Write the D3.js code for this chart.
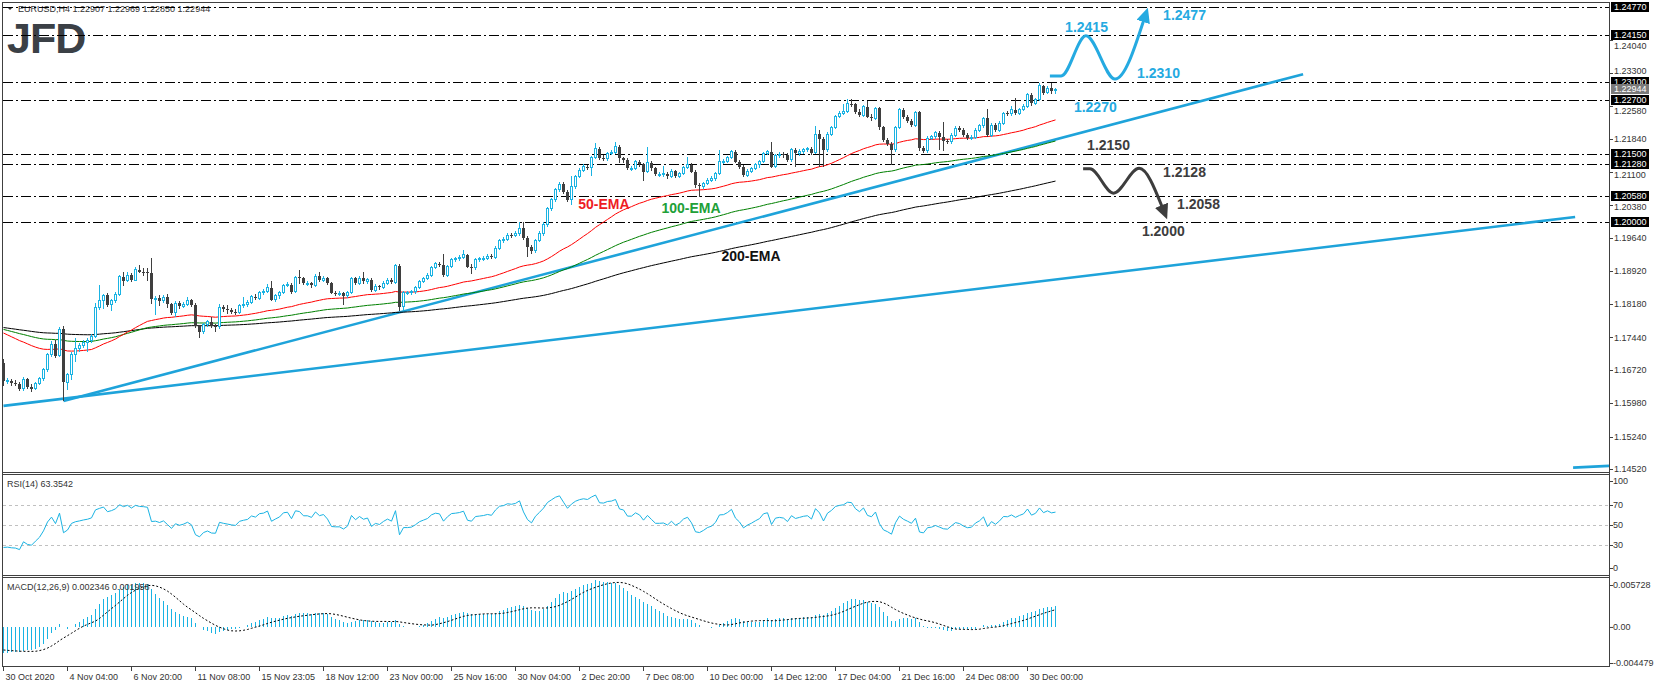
<!DOCTYPE html>
<html lang="en">
<head>
<meta charset="utf-8">
<title>EURUSD H4</title>
<script src="https://d3js.org/d3.v7.min.js"></script>
<style>
  body { margin: 0; background: #fff; }
  svg text { font-family: "Liberation Sans", Arial, sans-serif; }
  .axis-label { font-size: 9px; fill: #333; }
  .note { font-size: 14px; font-weight: bold; }
</style>
</head>
<body>
<div id="chart"></div>
<script>
// ---- data (EURUSD H4, 30 Oct 2020 - 31 Dec 2020) ----
var firstOpen = 1.1688;
var closes = [
1.1647,1.1648,1.1643,1.1641,1.1630,1.1651,1.1635,1.1630,1.1641,1.1652,
1.1672,1.1706,1.1729,1.1703,1.1762,1.1644,1.1661,1.1707,1.1720,1.1726,
1.1733,1.1738,1.1747,1.1811,1.1825,1.1838,1.1816,1.1825,1.1840,1.1878,
1.1870,1.1882,1.1871,1.1894,1.1890,1.1889,1.1887,1.1829,1.1831,1.1825,
1.1833,1.1817,1.1799,1.1820,1.1813,1.1818,1.1826,1.1816,1.1769,1.1757,
1.1773,1.1779,1.1769,1.1768,1.1811,1.1807,1.1804,1.1801,1.1799,1.1814,
1.1818,1.1821,1.1834,1.1831,1.1844,1.1846,1.1854,1.1828,1.1836,1.1843,
1.1859,1.1861,1.1845,1.1877,1.1875,1.1864,1.1864,1.1860,1.1880,1.1871,
1.1875,1.1864,1.1843,1.1842,1.1842,1.1836,1.1843,1.1875,1.1864,1.1875,
1.1868,1.1872,1.1849,1.1858,1.1855,1.1864,1.1871,1.1866,1.1903,1.1812,
1.1843,1.1843,1.1845,1.1855,1.1868,1.1875,1.1882,1.1899,1.1907,1.1905,
1.1882,1.1901,1.1916,1.1918,1.1921,1.1927,1.1901,1.1898,1.1916,1.1918,
1.1920,1.1924,1.1922,1.1942,1.1959,1.1962,1.1971,1.1970,1.1974,1.1986,
1.1964,1.1945,1.1936,1.1959,1.1975,1.1995,1.2029,1.2049,1.2071,1.2084,
1.2067,1.2049,1.2078,1.2101,1.2115,1.2123,1.2121,1.2143,1.2163,1.2141,
1.2140,1.2152,1.2155,1.2167,1.2141,1.2138,1.2119,1.2119,1.2134,1.2128,
1.2112,1.2132,1.2119,1.2106,1.2106,1.2107,1.2101,1.2113,1.2101,1.2108,
1.2121,1.2127,1.2112,1.2082,1.2079,1.2085,1.2093,1.2097,1.2108,1.2134,
1.2135,1.2143,1.2156,1.2134,1.2123,1.2104,1.2113,1.2119,1.2127,1.2134,
1.2152,1.2156,1.2123,1.2147,1.2150,1.2148,1.2138,1.2160,1.2152,1.2156,
1.2160,1.2162,1.2154,1.2195,1.2184,1.2160,1.2195,1.2210,1.2234,1.2241,
1.2245,1.2262,1.2261,1.2245,1.2237,1.2256,1.2234,1.2230,1.2252,1.2210,
1.2182,1.2173,1.2160,1.2210,1.2249,1.2234,1.2225,1.2215,1.2243,1.2164,
1.2158,1.2186,1.2189,1.2198,1.2189,1.2180,1.2178,1.2193,1.2208,1.2204,
1.2193,1.2186,1.2188,1.2204,1.2213,1.2230,1.2193,1.2215,1.2204,1.2219,
1.2241,1.2240,1.2249,1.2241,1.2250,1.2257,1.2282,1.2263,1.2272,1.2302,
1.2287,1.2297,1.22907,1.22944
];
var highs = [
1.1695,1.1655,1.1652,1.1650,1.1645,1.1656,1.1655,1.1640,1.1645,1.1656,
1.1676,1.1710,1.1736,1.1738,1.1766,1.1769,1.1666,1.1712,1.1743,1.1732,
1.1738,1.1742,1.1752,1.1820,1.1860,1.1841,1.1843,1.1829,1.1844,1.1882,
1.1890,1.1890,1.1886,1.1900,1.1905,1.1898,1.1899,1.1921,1.1836,1.1838,
1.1838,1.1840,1.1821,1.1824,1.1824,1.1822,1.1834,1.1830,1.1820,1.1772,
1.1777,1.1783,1.1789,1.1774,1.1819,1.1816,1.1815,1.1809,1.1806,1.1818,
1.1834,1.1826,1.1838,1.1840,1.1848,1.1852,1.1862,1.1868,1.1840,1.1847,
1.1863,1.1866,1.1864,1.1880,1.1894,1.1878,1.1868,1.1866,1.1885,1.1890,
1.1880,1.1878,1.1867,1.1847,1.1848,1.1845,1.1847,1.1879,1.1879,1.1880,
1.1888,1.1876,1.1876,1.1862,1.1861,1.1868,1.1875,1.1876,1.1906,1.1906,
1.1846,1.1848,1.1849,1.1859,1.1872,1.1879,1.1886,1.1903,1.1912,1.1911,
1.1929,1.1905,1.1920,1.1923,1.1926,1.1938,1.1930,1.1906,1.1920,1.1923,
1.1925,1.1928,1.1930,1.1946,1.1963,1.1967,1.1976,1.1976,1.1979,1.2001,
1.2001,1.1968,1.1950,1.1963,1.1980,1.1999,1.2034,1.2053,1.2075,1.2089,
1.2088,1.2071,1.2101,1.2105,1.2119,1.2128,1.2127,1.2147,1.2175,1.2166,
1.2148,1.2156,1.2160,1.2178,1.2170,1.2145,1.2141,1.2125,1.2138,1.2138,
1.2131,1.2167,1.2136,1.2122,1.2111,1.2125,1.2111,1.2117,1.2116,1.2112,
1.2125,1.2145,1.2131,1.2116,1.2087,1.2089,1.2097,1.2101,1.2112,1.2160,
1.2140,1.2147,1.2160,1.2159,1.2137,1.2126,1.2117,1.2123,1.2131,1.2138,
1.2156,1.2160,1.2177,1.2151,1.2155,1.2156,1.2152,1.2165,1.2164,1.2162,
1.2165,1.2167,1.2166,1.2213,1.2204,1.2188,1.2199,1.2214,1.2238,1.2246,
1.2261,1.2272,1.2272,1.2265,1.2250,1.2260,1.2269,1.2240,1.2256,1.2255,
1.2214,1.2186,1.2177,1.2214,1.2253,1.2252,1.2238,1.2229,1.2247,1.2247,
1.2168,1.2190,1.2194,1.2203,1.2202,1.2221,1.2185,1.2197,1.2212,1.2213,
1.2208,1.2197,1.2192,1.2208,1.2217,1.2234,1.2250,1.2219,1.2219,1.2223,
1.2245,1.2246,1.2257,1.2275,1.2254,1.2261,1.2286,1.2286,1.2276,1.2309,
1.2305,1.2301,1.2309,1.22969
];
var lows = [
1.1636,1.1640,1.1637,1.1636,1.1625,1.1624,1.1630,1.1623,1.1627,1.1638,
1.1648,1.1668,1.1700,1.1698,1.1700,1.1603,1.1627,1.1650,1.1690,1.1712,
1.1720,1.1712,1.1732,1.1742,1.1805,1.1808,1.1812,1.1803,1.1820,1.1836,
1.1858,1.1866,1.1866,1.1868,1.1886,1.1880,1.1870,1.1818,1.1794,1.1813,
1.1820,1.1810,1.1794,1.1790,1.1808,1.1809,1.1814,1.1812,1.1764,1.1743,
1.1752,1.1768,1.1765,1.1757,1.1762,1.1801,1.1795,1.1796,1.1794,1.1795,
1.1810,1.1812,1.1818,1.1826,1.1827,1.1838,1.1842,1.1824,1.1822,1.1830,
1.1840,1.1855,1.1840,1.1842,1.1862,1.1860,1.1858,1.1853,1.1856,1.1866,
1.1866,1.1860,1.1840,1.1835,1.1836,1.1816,1.1831,1.1840,1.1860,1.1860,
1.1863,1.1862,1.1845,1.1845,1.1850,1.1852,1.1860,1.1862,1.1862,1.1803,
1.1803,1.1838,1.1838,1.1841,1.1852,1.1864,1.1871,1.1878,1.1895,1.1900,
1.1878,1.1878,1.1897,1.1911,1.1914,1.1917,1.1897,1.1885,1.1894,1.1912,
1.1913,1.1916,1.1917,1.1918,1.1938,1.1954,1.1958,1.1965,1.1966,1.1970,
1.1960,1.1922,1.1930,1.1932,1.1955,1.1970,1.1990,1.2025,1.2045,1.2066,
1.2062,1.2044,1.2038,1.2074,1.2097,1.2111,1.2116,1.2101,1.2139,1.2137,
1.2135,1.2136,1.2148,1.2151,1.2130,1.2132,1.2115,1.2113,1.2115,1.2123,
1.2090,1.2108,1.2114,1.2101,1.2100,1.2100,1.2096,1.2097,1.2097,1.2097,
1.2104,1.2117,1.2108,1.2076,1.2056,1.2073,1.2081,1.2089,1.2092,1.2104,
1.2129,1.2131,1.2139,1.2130,1.2118,1.2100,1.2100,1.2109,1.2115,1.2120,
1.2130,1.2148,1.2119,1.2119,1.2143,1.2142,1.2133,1.2133,1.2123,1.2147,
1.2150,1.2155,1.2149,1.2150,1.2123,1.2123,1.2155,1.2191,1.2206,1.2230,
1.2237,1.2241,1.2256,1.2240,1.2232,1.2233,1.2230,1.2225,1.2226,1.2205,
1.2178,1.2168,1.2127,1.2156,1.2206,1.2229,1.2220,1.2210,1.2211,1.2158,
1.2152,1.2153,1.2182,1.2185,1.2160,1.2158,1.2173,1.2174,1.2189,1.2199,
1.2189,1.2181,1.2182,1.2184,1.2200,1.2209,1.2189,1.2189,1.2199,1.2200,
1.2215,1.2235,1.2236,1.2237,1.2237,1.2246,1.2253,1.2258,1.2259,1.2268,
1.2282,1.2283,1.2284,1.22850
];
var timeLabels = ["30 Oct 2020","4 Nov 04:00","6 Nov 20:00","11 Nov 08:00","15 Nov 23:05",
  "18 Nov 12:00","23 Nov 00:00","25 Nov 16:00","30 Nov 04:00","2 Dec 20:00","7 Dec 08:00",
  "10 Dec 00:00","14 Dec 12:00","17 Dec 04:00","21 Dec 16:00","24 Dec 08:00","30 Dec 00:00"];
var barsPerLabel = 16;
var priceTicks = [1.2404,1.2330,1.2258,1.2184,1.2110,1.2038,1.1964,1.1892,1.1818,1.1744,1.1672,1.1598,1.1524,1.1452];
var levels = [1.2477,1.2415,1.2310,1.2270,1.2150,1.2128,1.2058,1.2000];
var lastPrice = 1.22944;
var rsiLevels = [70,50,30];
var rsiTicks = [100,70,50,30,0];
var macdTicks = [0.005728,0,-0.004479];

// indicator states just before the first visible bar
var ema50Seed = 1.1758, ema100Seed = 1.1764, ema200Seed = 1.1767;
var ema12Seed = 1.1674, ema26Seed = 1.1704, signalSeed = -0.0026;
var rsiGainSeed = 0.0005, rsiLossSeed = 0.0010;

// trend lines [bar, price]
var steepTrend = [[15,1.1603],[324.9,1.2328]];
var longTrend = [[0,1.1592],[392.9,1.2011]];
// scenario paths [bar, price]
var upPath = [[261.6,1.2324],[264.4,1.2324],[270.6,1.2413],[277.9,1.2317],[285.0,1.2446]];
var downPath = [[269.9,1.2118],[271.6,1.2118],[277.5,1.2064],[283.9,1.2119],[289.6,1.2035]];
var upNotes = [["1.2415",265.4,1.2422],["1.2477",289.9,1.2448],["1.2310",283.4,1.2319],["1.2270",267.6,1.2244]];
var downNotes = [["1.2150",270.9,1.2160],["1.2128",289.9,1.2100],["1.2058",293.4,1.2029],["1.2000",284.6,1.1969]];

// ---- indicators ----
function ema(src, period, seed) {
  var k = 2 / (period + 1), v = seed;
  return src.map(function(c) { v = v + k * (c - v); return v; });
}
var ema50 = ema(closes, 50, ema50Seed);
var ema100 = ema(closes, 100, ema100Seed);
var ema200 = ema(closes, 200, ema200Seed);

var prevC = firstOpen, ag = rsiGainSeed, al = rsiLossSeed;
var rsi = closes.map(function(c) {
  var d = c - prevC; prevC = c;
  ag = (ag * 13 + Math.max(d, 0)) / 14;
  al = (al * 13 + Math.max(-d, 0)) / 14;
  return 100 - 100 / (1 + ag / al);
});

var e12 = ema(closes, 12, ema12Seed), e26 = ema(closes, 26, ema26Seed);
var macd = e12.map(function(v, i) { return v - e26[i]; });
var padded = d3.range(8).map(function() { return signalSeed; }).concat(macd);
var signal = macd.map(function(v, i) { return d3.mean(padded.slice(i, i + 9)); });

var bars = closes.map(function(c, i) {
  return { i: i, o: i ? closes[i - 1] : firstOpen, c: c, h: highs[i], l: lows[i] };
});

// ---- layout ----
var W = 1655, H = 687, axisX = 1609;
var cyan = "#1ab3e3", bearCol = "#3f3f3f", lineCol = "#1ea3da";

var svg = d3.select("#chart").append("svg").attr("width", W).attr("height", H);

var x = d3.scaleLinear().domain([0, 263]).range([3.5, 1055.5]);
var y = d3.scaleLinear().domain([1.1452, 1.2477]).range([469, 7]);
var yR = d3.scaleLinear().domain([0, 100]).range([575, 475]);
var yM = d3.scaleLinear().domain([-0.004479, 0.005728]).range([666, 577]);

var defs = svg.append("defs");
defs.append("clipPath").attr("id", "mainClip")
  .append("rect").attr("x", 3).attr("y", 3).attr("width", axisX - 3).attr("height", 469);
function marker(id, col) {
  defs.append("marker").attr("id", id).attr("markerUnits", "userSpaceOnUse")
    .attr("markerWidth", 16).attr("markerHeight", 14).attr("refX", 1).attr("refY", 7)
    .attr("orient", "auto")
    .append("path").attr("d", "M0,0 L15,7 L0,14 Z").attr("fill", col);
}
marker("arrUp", "#25aae1");
marker("arrDown", "#3d3d3d");

// header + logo
svg.append("path").attr("d", "M7,7 L13,7 L10,10 Z").attr("fill", "#333");
svg.append("text").attr("x", 18).attr("y", 11.5).attr("class", "axis-label")
  .text("EURUSD,H4  1.22907 1.22969 1.22850 1.22944");
svg.append("text").attr("x", 7).attr("y", 52.5).text("JFD")
  .style("font-size", "43px").style("font-weight", "bold").style("letter-spacing", "-1px")
  .attr("fill", "#3b4046");

var main = svg.append("g").attr("clip-path", "url(#mainClip)");

// dash-dot levels
main.selectAll(".lvl").data(levels).enter().append("line")
  .attr("x1", 3).attr("x2", axisX)
  .attr("y1", function(d) { return Math.round(y(d)) + 0.5; })
  .attr("y2", function(d) { return Math.round(y(d)) + 0.5; })
  .attr("stroke", "#000").attr("stroke-width", 1).attr("stroke-dasharray", "10,3,2,3");

// trend lines
[steepTrend, longTrend].forEach(function(t) {
  main.append("line")
    .attr("x1", x(t[0][0])).attr("y1", y(t[0][1]))
    .attr("x2", x(t[1][0])).attr("y2", y(t[1][1]))
    .attr("stroke", lineCol).attr("stroke-width", 2.6);
});
main.append("line").attr("x1", x(392.4)).attr("x2", axisX)
  .attr("y1", y(1.1455)).attr("y2", y(1.1459)).attr("stroke", lineCol).attr("stroke-width", 2.6);

// moving averages
var emaLine = d3.line().x(function(d, i) { return x(i); }).y(function(d) { return y(d); });
[[ema200, "#000"], [ema100, "#008000"], [ema50, "#ff0000"]].forEach(function(e) {
  main.append("path").attr("d", emaLine(e[0])).attr("fill", "none")
    .attr("stroke", e[1]).attr("stroke-width", 1);
});

// candles
var cg = main.append("g").attr("shape-rendering", "crispEdges");
cg.selectAll(".wick").data(bars).enter().append("line")
  .attr("x1", function(d) { return x(d.i); }).attr("x2", function(d) { return x(d.i); })
  .attr("y1", function(d) { return y(d.h); }).attr("y2", function(d) { return y(d.l); })
  .attr("stroke", function(d) { return d.c >= d.o ? cyan : bearCol; });
cg.selectAll(".body").data(bars).enter().append("rect")
  .attr("x", function(d) { return d.c >= d.o ? x(d.i) - 1 : x(d.i) - 1.5; })
  .attr("width", function(d) { return d.c >= d.o ? 2 : 3; })
  .attr("y", function(d) { return y(Math.max(d.o, d.c)); })
  .attr("height", function(d) { return Math.max(1, Math.abs(y(d.o) - y(d.c))); })
  .attr("fill", function(d) { return d.c >= d.o ? "#fff" : bearCol; })
  .attr("stroke", function(d) { return d.c >= d.o ? cyan : "none"; });

// scenario drawings
var scen = d3.line().curve(d3.curveMonotoneX)
  .x(function(d) { return x(d[0]); }).y(function(d) { return y(d[1]); });
main.append("path").attr("d", scen(upPath)).attr("fill", "none")
  .attr("stroke", "#25aae1").attr("stroke-width", 3).attr("marker-end", "url(#arrUp)");
main.append("path").attr("d", scen(downPath)).attr("fill", "none")
  .attr("stroke", "#3d3d3d").attr("stroke-width", 3).attr("marker-end", "url(#arrDown)");
main.selectAll(".upn").data(upNotes).enter().append("text").attr("class", "note")
  .attr("x", function(d) { return x(d[1]); }).attr("y", function(d) { return y(d[2]); })
  .attr("fill", "#25aae1").text(function(d) { return d[0]; });
main.selectAll(".dnn").data(downNotes).enter().append("text").attr("class", "note")
  .attr("x", function(d) { return x(d[1]); }).attr("y", function(d) { return y(d[2]); })
  .attr("fill", "#3d3d3d").text(function(d) { return d[0]; });
[["50-EMA", 143.7, 1.2028, "#ee1c24"], ["100-EMA", 164.5, 1.2021, "#21a038"], ["200-EMA", 179.5, 1.1914, "#111"]]
  .forEach(function(t) {
    main.append("text").attr("class", "note").attr("x", x(t[1])).attr("y", y(t[2]))
      .attr("fill", t[3]).text(t[0]);
  });

// RSI panel
svg.selectAll(".rl").data(rsiLevels).enter().append("line")
  .attr("x1", 3).attr("x2", axisX)
  .attr("y1", function(d) { return yR(d) + 0.5; }).attr("y2", function(d) { return yR(d) + 0.5; })
  .attr("stroke", "#c0c0c0").attr("stroke-dasharray", "3,3");
svg.append("path").attr("fill", "none").attr("stroke", cyan).attr("stroke-width", 1)
  .attr("d", d3.line().x(function(d, i) { return x(i); }).y(function(d) { return yR(d); })(rsi));
svg.append("text").attr("class", "axis-label").attr("x", 7).attr("y", 487).text("RSI(14) 63.3542");

// MACD panel
svg.append("g").attr("shape-rendering", "crispEdges").selectAll("rect").data(macd).enter().append("rect")
  .attr("x", function(d, i) { return x(i) - 0.5; }).attr("width", 1)
  .attr("y", function(d) { return Math.min(yM(d), yM(0)); })
  .attr("height", function(d) { return Math.abs(yM(d) - yM(0)); })
  .attr("fill", cyan);
svg.append("path").attr("fill", "none").attr("stroke", "#000").attr("stroke-width", 1)
  .attr("stroke-dasharray", "2,2")
  .attr("d", d3.line().x(function(d, i) { return x(i); }).y(function(d) { return yM(d); })(signal));
svg.append("text").attr("class", "axis-label").attr("x", 7).attr("y", 590)
  .text("MACD(12,26,9) 0.002346 0.001958");

// frames
var fr = svg.append("g").attr("stroke", "#404040").attr("stroke-width", 1).attr("shape-rendering", "crispEdges");
fr.append("line").attr("x1", 2.5).attr("x2", 2.5).attr("y1", 2).attr("y2", 666);
fr.append("line").attr("x1", axisX + 0.5).attr("x2", axisX + 0.5).attr("y1", 2).attr("y2", 666);
[2.5, 472.5, 474.5, 575.5, 577.5, 666.5].forEach(function(v) {
  fr.append("line").attr("x1", 2).attr("x2", axisX + 1).attr("y1", v).attr("y2", v);
});

// right axis: price ticks (labels sitting under a level box are pushed just clear of it)
var boxYs = levels.map(function(v) { return Math.round(y(v)); });
function tickY(d) {
  var yy = y(d);
  boxYs.forEach(function(b) {
    if (Math.abs(yy - b) < 11) yy = yy > b ? b + 11 : b - 11;
  });
  return yy;
}
var ax = svg.append("g");
ax.selectAll(".pt").data(priceTicks).enter().append("line")
  .attr("x1", axisX).attr("x2", axisX + 4)
  .attr("y1", function(d) { return Math.round(y(d)) + 0.5; }).attr("y2", function(d) { return Math.round(y(d)) + 0.5; })
  .attr("stroke", "#404040");
ax.selectAll(".ptl").data(priceTicks).enter().append("text").attr("class", "axis-label")
  .attr("x", axisX + 5).attr("y", tickY).attr("dy", "0.35em")
  .text(function(d) { return d.toFixed(5); });
function boxLabel(v, bg) {
  var g = ax.append("g").attr("transform", "translate(" + (axisX + 2) + "," + Math.round(y(v)) + ")");
  g.append("rect").attr("x", 0).attr("y", -5).attr("width", 38).attr("height", 10).attr("fill", bg);
  g.append("text").attr("class", "axis-label").attr("x", 3).attr("y", 0).attr("dy", "0.35em")
    .style("fill", "#fff").text(v.toFixed(5));
}
levels.forEach(function(v) { boxLabel(v, "#000"); });
boxLabel(lastPrice, "#7a7a7a");

// right axis: RSI & MACD
rsiTicks.forEach(function(v) {
  var yy = Math.min(Math.max(yR(v), 481), 568);
  ax.append("line").attr("x1", axisX).attr("x2", axisX + 4).attr("y1", yy + 0.5).attr("y2", yy + 0.5).attr("stroke", "#404040");
  ax.append("text").attr("class", "axis-label").attr("x", axisX + 4).attr("y", yy).attr("dy", "0.35em").text(v);
});
macdTicks.forEach(function(v) {
  var yy = Math.min(Math.max(yM(v), 585), 663);
  ax.append("line").attr("x1", axisX).attr("x2", axisX + 4).attr("y1", yy + 0.5).attr("y2", yy + 0.5).attr("stroke", "#404040");
  ax.append("text").attr("class", "axis-label").attr("x", axisX + 4).attr("y", yy).attr("dy", "0.35em")
    .text(v === 0 ? "0.00" : v.toFixed(6));
});

// time axis
var tg = svg.append("g");
timeLabels.forEach(function(t, k) {
  var xx = x(k * barsPerLabel);
  tg.append("line").attr("x1", xx).attr("x2", xx).attr("y1", 666).attr("y2", 671).attr("stroke", "#404040");
  tg.append("text").attr("class", "axis-label").attr("x", xx + 2).attr("y", 680).text(t);
});
</script>
</body>
</html>
